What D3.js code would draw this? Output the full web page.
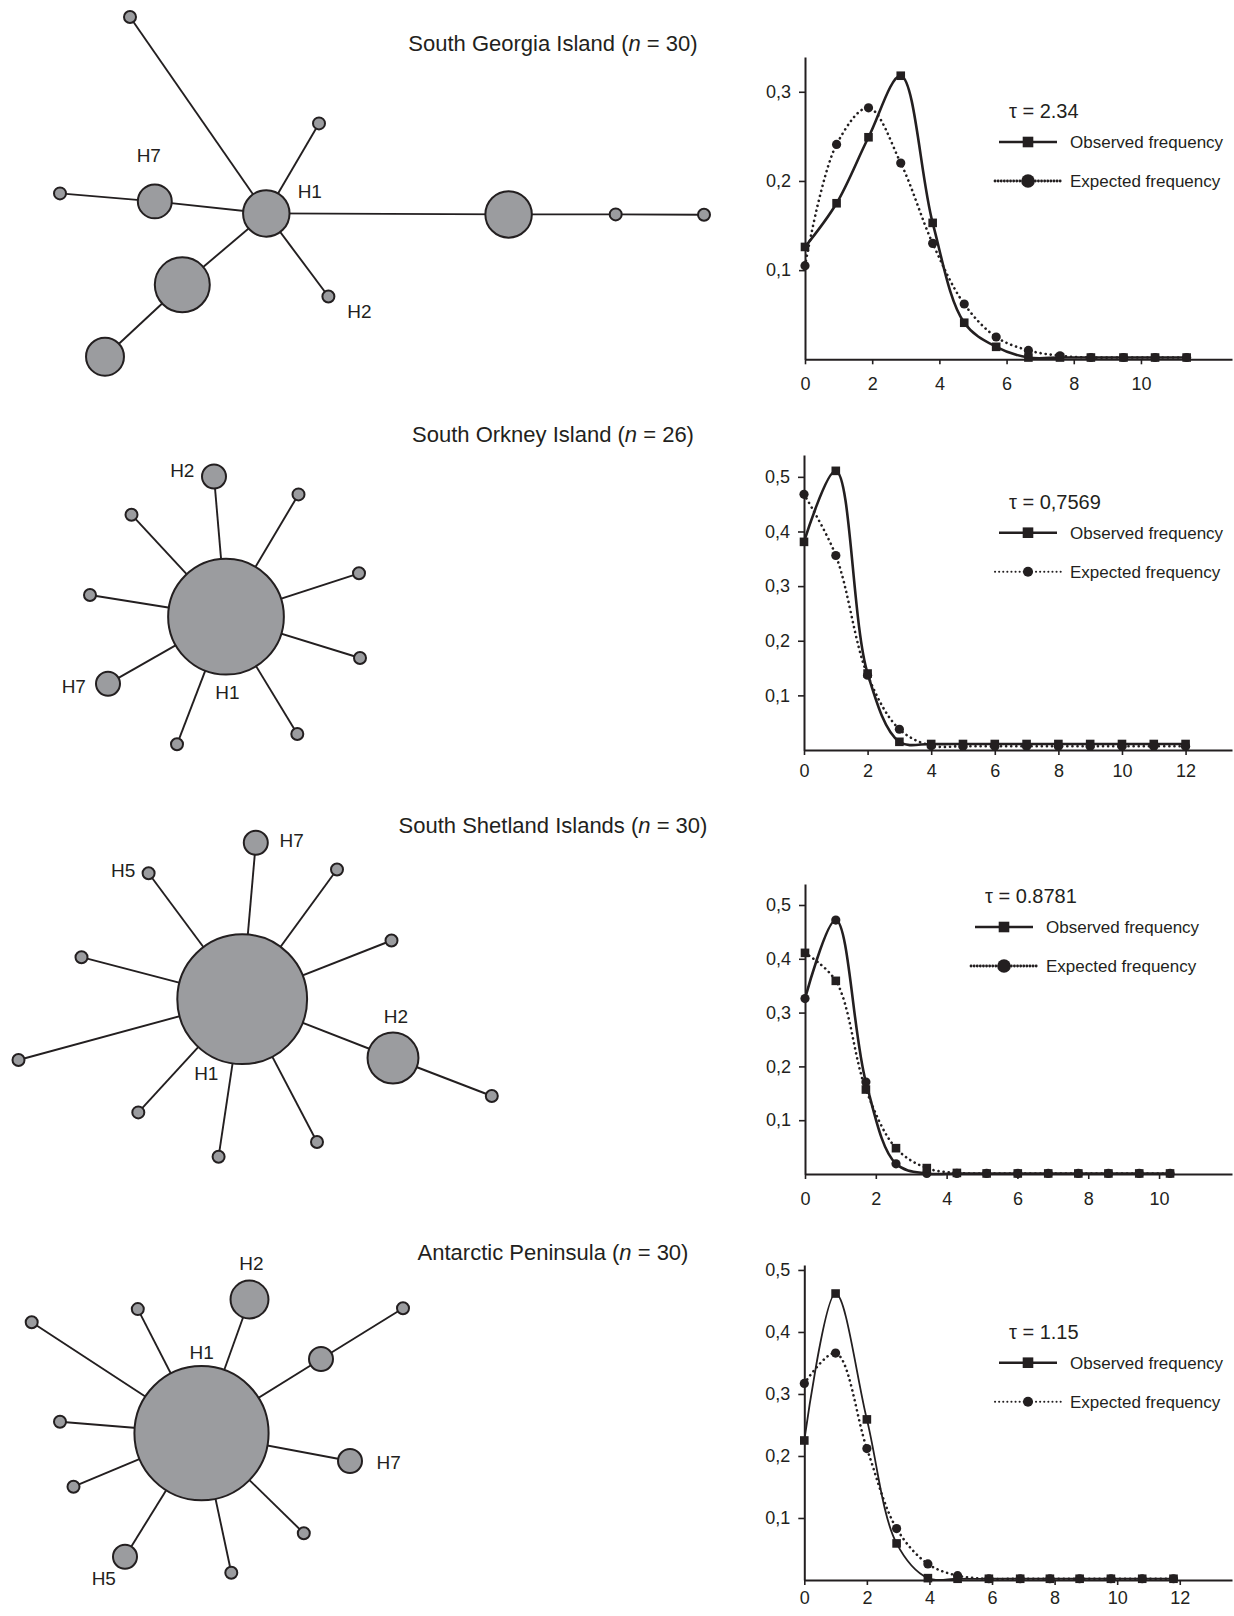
<!DOCTYPE html>
<html>
<head>
<meta charset="utf-8">
<script src="https://cdn.jsdelivr.net/npm/d3@7"></script>
<style>
  body { margin: 0; background: #fff; }
  svg { font-family: "Liberation Sans", Arial, sans-serif; }
</style>
</head>
<body>
<div id="fig"></div>
<script>
// ---------- populations ----------
var popNames = ["South Georgia Island", "South Orkney Island", "South Shetland Islands", "Antarctic Peninsula"];
var popN = [30, 26, 30, 30];
var tauLabels = ["2.34", "0,7569", "0.8781", "1.15"];

// ---------- mismatch distributions (x in axis units) ----------
var sgX = [0, 0.94, 1.89, 2.85, 3.8, 4.74, 5.69, 6.65, 7.59, 8.51, 9.48, 10.42, 11.36];
var sgObserved = [0.126, 0.175, 0.249, 0.318, 0.153, 0.041, 0.014, 0.002, 0.002, 0.002, 0.002, 0.002, 0.002];
var sgExpected = [0.105, 0.241, 0.282, 0.220, 0.130, 0.062, 0.025, 0.010, 0.004, 0.002, 0.002, 0.002, 0.002];

var soX = [0, 1, 2, 3, 4, 5, 6, 7, 8, 9, 10, 11, 12];
var soObserved = [0.381, 0.511, 0.140, 0.015, 0.011, 0.011, 0.011, 0.011, 0.011, 0.011, 0.011, 0.011, 0.011];
var soExpected = [0.468, 0.356, 0.137, 0.038, 0.008, 0.007, 0.007, 0.007, 0.007, 0.007, 0.007, 0.007, 0.007];

var ssX = [0, 0.87, 1.72, 2.57, 3.44, 4.29, 5.13, 6.01, 6.87, 7.72, 8.57, 9.44, 10.31];
var ssObserved = [0.326, 0.472, 0.171, 0.019, 0.001, 0.001, 0.001, 0.001, 0.001, 0.001, 0.001, 0.001, 0.001];
var ssExpected = [0.411, 0.359, 0.157, 0.048, 0.011, 0.002, 0.001, 0.001, 0.001, 0.001, 0.001, 0.001, 0.001];

var apX = [0, 1, 2, 2.95, 3.95, 4.9, 5.9, 6.9, 7.85, 8.8, 9.8, 10.8, 11.8];
var apObserved = [0.225, 0.462, 0.259, 0.059, 0.003, 0.002, 0.002, 0.002, 0.002, 0.002, 0.002, 0.002, 0.002];
var apExpected = [0.317, 0.366, 0.212, 0.083, 0.026, 0.007, 0.002, 0.002, 0.002, 0.002, 0.002, 0.002, 0.002];

var xTicks10 = [0, 2, 4, 6, 8, 10];
var xTicks12 = [0, 2, 4, 6, 8, 10, 12];
var yTicks3 = [0.1, 0.2, 0.3];
var yTicks5 = [0.1, 0.2, 0.3, 0.4, 0.5];

// ---------- haplotype networks: node [id, x, y, weight] in panel layout units ----------
var sgNodes = [["H1", 266.3, 213.4, 15], ["a", 130, 17, 1], ["b", 319, 123.4, 1], ["H7", 154.8, 201.4, 8],
  ["c", 60, 193.4, 1], ["d", 508.6, 214.4, 15], ["e", 615.7, 214.4, 1], ["f", 704, 214.7, 1],
  ["H2", 328.4, 296.5, 1], ["g", 182.3, 284.8, 21], ["h", 105, 356.7, 10]];
var sgLinks = [["H1", "a"], ["H1", "b"], ["H1", "H7"], ["H7", "c"], ["H1", "d"], ["d", "e"], ["e", "f"],
  ["H1", "H2"], ["H1", "g"], ["g", "h"]];
var sgLabels = [["H7", -6, -46.5], ["H1", 43.5, -22.4], ["H2", 31, 15.3]];

var soNodes = [["H1", 226, 216.7, 93], ["H2", 214, 76.5, 4], ["s1", 131.5, 114.7, 1], ["s2", 298.5, 94.4, 1],
  ["s3", 359, 173.3, 1], ["s4", 90, 195, 1], ["s5", 360, 258, 1], ["s6", 297.3, 334, 1],
  ["s7", 177, 344.3, 1], ["H7", 108, 283.8, 4]];
var soLinks = [["H1", "H2"], ["H1", "s1"], ["H1", "s2"], ["H1", "s3"], ["H1", "s4"], ["H1", "s5"],
  ["H1", "s6"], ["H1", "s7"], ["H1", "H7"]];
var soLabels = [["H2", -31.7, -6.5], ["H7", -34.2, 2.9], ["H1", 1.5, 76]];

var ssNodes = [["H1", 242.2, 209.2, 117], ["H7", 255.8, 52.8, 4], ["H5", 148.6, 83.3, 1], ["t1", 337, 79.5, 1],
  ["t2", 391.5, 150.5, 1], ["t3", 81.5, 167.2, 1], ["t4", 18.5, 270, 1], ["H2", 393, 268, 18],
  ["t5", 491.8, 306, 1], ["t6", 138.3, 322.4, 1], ["t7", 218.6, 366.7, 1], ["t8", 317, 352, 1]];
var ssLinks = [["H1", "H7"], ["H1", "H5"], ["H1", "t1"], ["H1", "t2"], ["H1", "t3"], ["H1", "t4"],
  ["H1", "H2"], ["H2", "t5"], ["H1", "t6"], ["H1", "t7"], ["H1", "t8"]];
var ssLabels = [["H7", 35.9, -2.8], ["H5", -25.4, -2.6], ["H2", 3, -42], ["H1", -35.9, 74.1]];

var apNodes = [["H1", 201.5, 253.2, 125], ["H2", 249.5, 119.5, 10], ["u1", 137.8, 129.1, 1], ["u2", 31.7, 142.3, 1],
  ["m", 321, 179, 4], ["u3", 403, 128.3, 1], ["u4", 60, 241.7, 1], ["H7", 350, 281, 4],
  ["u5", 73.5, 306.7, 1], ["H5", 125, 376.7, 4], ["u6", 231.3, 392.7, 1], ["u7", 303.8, 353.2, 1]];
var apLinks = [["H1", "H2"], ["H1", "u1"], ["H1", "u2"], ["H1", "m"], ["m", "u3"], ["H1", "u4"],
  ["H1", "H7"], ["H1", "u5"], ["H1", "H5"], ["H1", "u6"], ["H1", "u7"]];
var apLabels = [["H2", 2, -36.2], ["H1", 0.2, -80.5], ["H7", 38.6, 1.7], ["H5", -21.2, 21.6]];

// ---------- layout ----------
var W = 1234, H = 1616;
var ink = "#231f20", nodeFill = "#9b9c9f";
var panelTops = [0, 400, 790, 1180];
var titleY = [43, 34, 35, 72.6];

var charts = [
  { xs: sgX, obs: sgObserved, exp: sgExpected, xTicks: xTicks10, yTicks: yTicks3,
    left: 805, top: 57, bottom: 359.3, xMax: 12.71, yMax: 0.339, xPad: 13,
    lx: 999, ly: 111, obsMarker: "square", expMarker: "circle", obsWidth: 2.6, heavyLegend: true },
  { xs: soX, obs: soObserved, exp: soExpected, xTicks: xTicks12, yTicks: yTicks5,
    left: 804, top: 455, bottom: 750, xMax: 13.46, yMax: 0.54, xPad: 9,
    lx: 999, ly: 501.7, obsMarker: "square", expMarker: "circle", obsWidth: 2.6, heavyLegend: false },
  { xs: ssX, obs: ssObserved, exp: ssExpected, xTicks: xTicks10, yTicks: yTicks5,
    left: 805, top: 884, bottom: 1174, xMax: 12.06, yMax: 0.539, xPad: 13,
    lx: 975, ly: 896, obsMarker: "circle", expMarker: "square", obsWidth: 2.6, heavyLegend: true },
  { xs: apX, obs: apObserved, exp: apExpected, xTicks: xTicks12, yTicks: yTicks5,
    left: 804.3, top: 1265, bottom: 1580, xMax: 13.67, yMax: 0.508, xPad: 6,
    lx: 999, ly: 1331.7, obsMarker: "square", expMarker: "circle", obsWidth: 1.8, heavyLegend: false }
];

var networks = [
  { nodes: sgNodes, links: sgLinks, labels: sgLabels },
  { nodes: soNodes, links: soLinks, labels: soLabels },
  { nodes: ssNodes, links: ssLinks, labels: ssLabels },
  { nodes: apNodes, links: apLinks, labels: apLabels }
];

var svg = d3.select("#fig").append("svg")
  .attr("width", W)
  .attr("height", H);

var rScale = d3.scaleSqrt().domain([0, 1]).range([0, 6]);
var commaFmt = function(d) { return d3.format(".1f")(d).replace(".", ","); };

function drawMarker(g, kind, cx, cy, size) {
  if (kind === "square") {
    g.append("rect")
      .attr("x", cx - size).attr("y", cy - size)
      .attr("width", size * 2).attr("height", size * 2)
      .attr("fill", ink);
  } else {
    g.append("circle")
      .attr("cx", cx).attr("cy", cy).attr("r", size)
      .attr("fill", ink);
  }
}

function drawChart(c, i) {
  var x = d3.scaleLinear().domain([0, c.xMax]).range([c.left, W - 2]);
  var y = d3.scaleLinear().domain([0, c.yMax]).range([c.bottom, c.top]);
  var g = svg.append("g");

  // axes
  var xAxis = g.append("g")
    .attr("transform", `translate(0,${c.bottom})`)
    .call(d3.axisBottom(x).tickValues(c.xTicks).tickFormat(d3.format("d"))
      .tickSize(5).tickSizeOuter(0).tickPadding(c.xPad));
  var yAxis = g.append("g")
    .attr("transform", `translate(${c.left},0)`)
    .call(d3.axisLeft(y).tickValues(c.yTicks).tickFormat(commaFmt)
      .tickSize(6).tickSizeOuter(0).tickPadding(8));
  [xAxis, yAxis].forEach(function(a) {
    a.attr("font-family", null).attr("font-size", 18);
    a.select(".domain").attr("stroke", ink).attr("stroke-width", 2);
    a.selectAll(".tick line").attr("stroke", ink).attr("stroke-width", 1.6);
    a.selectAll(".tick text").attr("fill", ink);
  });

  var curve = d3.line()
    .x(function(d) { return x(d[0]); })
    .y(function(d) { return y(d[1]); })
    .curve(d3.curveCatmullRom.alpha(0.5));

  var expPts = d3.zip(c.xs, c.exp);
  var obsPts = d3.zip(c.xs, c.obs);

  g.append("path")
    .attr("d", curve(expPts))
    .attr("fill", "none")
    .attr("stroke", ink)
    .attr("stroke-width", 2.6)
    .attr("stroke-linecap", "round")
    .attr("stroke-dasharray", "0.1 5");

  g.append("path")
    .attr("d", curve(obsPts))
    .attr("fill", "none")
    .attr("stroke", ink)
    .attr("stroke-width", c.obsWidth);

  // markers: circles below squares
  var series = [[expPts, c.expMarker], [obsPts, c.obsMarker]];
  series.sort(function(a, b) { return (a[1] === "circle" ? 0 : 1) - (b[1] === "circle" ? 0 : 1); });
  series.forEach(function(s) {
    s[0].forEach(function(p) {
      drawMarker(g, s[1], x(p[0]), y(p[1]), s[1] === "square" ? 4.3 : 4.6);
    });
  });

  // legend
  var lg = g.append("g").attr("fill", ink);
  lg.append("text")
    .attr("x", c.lx + 10).attr("y", c.ly).attr("dy", "0.35em")
    .attr("font-size", 20)
    .text("\u03c4 = " + tauLabels[i]);

  var oy = c.ly + 31, ey = c.ly + 70;
  lg.append("line")
    .attr("x1", c.lx).attr("x2", c.lx + 58).attr("y1", oy).attr("y2", oy)
    .attr("stroke", ink).attr("stroke-width", 2.4);
  drawMarker(lg, "square", c.lx + 29, oy, 5.3);
  lg.append("text")
    .attr("x", c.lx + 71).attr("y", oy).attr("dy", "0.35em")
    .attr("font-size", 17)
    .text("Observed frequency");

  lg.append("line")
    .attr("x1", c.lx - 4).attr("x2", c.lx + 62).attr("y1", ey).attr("y2", ey)
    .attr("stroke", ink)
    .attr("stroke-width", c.heavyLegend ? 2.8 : 2)
    .attr("stroke-linecap", "round")
    .attr("stroke-dasharray", c.heavyLegend ? "0.1 3" : "0.1 4");
  drawMarker(lg, "circle", c.lx + 29, ey, c.heavyLegend ? 6.8 : 5);
  lg.append("text")
    .attr("x", c.lx + 71).attr("y", ey).attr("dy", "0.35em")
    .attr("font-size", 17)
    .text("Expected frequency");
}

function drawNetwork(net, i) {
  var top = panelTops[i];
  var nx = d3.scaleLinear().domain([0, 720]).range([0, 720]);
  var ny = d3.scaleLinear().domain([0, 400]).range([top, top + 400]);
  var byId = {};
  net.nodes.forEach(function(n) { byId[n[0]] = n; });
  var g = svg.append("g");

  g.selectAll("line")
    .data(net.links)
    .enter()
    .append("line")
    .attr("x1", function(l) { return nx(byId[l[0]][1]); })
    .attr("y1", function(l) { return ny(byId[l[0]][2]); })
    .attr("x2", function(l) { return nx(byId[l[1]][1]); })
    .attr("y2", function(l) { return ny(byId[l[1]][2]); })
    .attr("stroke", ink)
    .attr("stroke-width", 1.9);

  g.selectAll("circle")
    .data(net.nodes)
    .enter()
    .append("circle")
    .attr("cx", function(n) { return nx(n[1]); })
    .attr("cy", function(n) { return ny(n[2]); })
    .attr("r", function(n) { return rScale(n[3]); })
    .attr("fill", nodeFill)
    .attr("stroke", ink)
    .attr("stroke-width", 2);

  g.selectAll("text")
    .data(net.labels)
    .enter()
    .append("text")
    .attr("x", function(l) { return nx(byId[l[0]][1] + l[1]); })
    .attr("y", function(l) { return ny(byId[l[0]][2] + l[2]); })
    .attr("dy", "0.35em")
    .attr("text-anchor", "middle")
    .attr("font-size", 19)
    .attr("fill", ink)
    .text(function(l) { return l[0]; });

  // title
  var t = svg.append("text")
    .attr("x", 553)
    .attr("y", top + titleY[i])
    .attr("dy", "0.35em")
    .attr("text-anchor", "middle")
    .attr("font-size", 22)
    .attr("fill", ink);
  t.append("tspan").text(popNames[i] + " (");
  t.append("tspan").attr("font-style", "italic").text("n");
  t.append("tspan").text(" = " + popN[i] + ")");
}

networks.forEach(drawNetwork);
charts.forEach(drawChart);
</script>
</body>
</html>
